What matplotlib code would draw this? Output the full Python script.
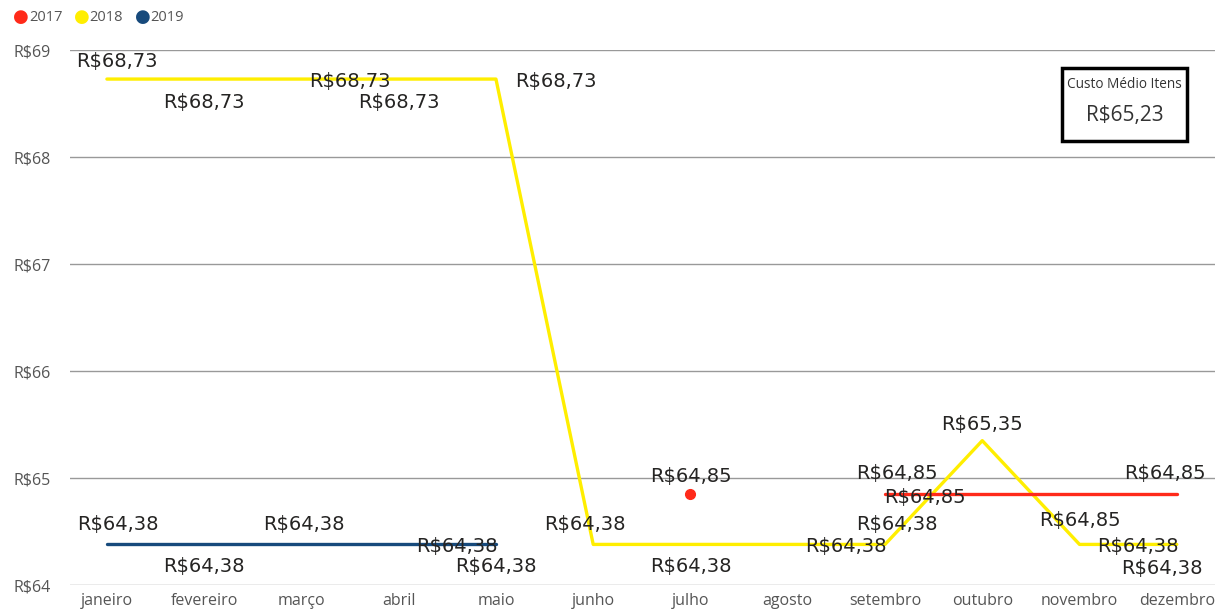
import matplotlib.pyplot as plt
import numpy as np

meses = ["janeiro", "fevereiro", "março", "abril", "maio", "junho",
         "julho", "agosto", "setembro", "outubro", "novembro", "dezembro"]
y_ticks = [64, 65, 66, 67, 68, 69]

# custo médio por mês (None = sem dado)
custo_2017 = [None, None, None, None, None, None,
              64.85, None, 64.85, 64.85, 64.85, 64.85]
custo_2018 = [68.73, 68.73, 68.73, 68.73, 68.73, 64.38,
              64.38, 64.38, 64.38, 65.35, 64.38, 64.38]
custo_2019 = [64.38, 64.38, 64.38, 64.38, 64.38, None,
              None, None, None, None, None, None]
custo_medio_itens = 65.23

cores = {"2017": "#FF2A1A", "2018": "#FFEE00", "2019": "#174A7C"}

# deslocamento (px) de cada rótulo de dado em relação ao ponto
off_2017 = [None, None, None, None, None, None,
            (0, 18), None, (12, 21), (-57, -3), (0, -26), (-12, 21)]
off_2018 = [(10, 18), (0, -23), (48, -2), (0, -23), (60, -2), (-8, 20),
            (0, -22), (58, -2), (12, 20), (0, 16), (58, -2), (-15, -24)]
off_2019 = [(11, 20), (0, -22), (2, 20), (58, -2), (0, -22), None,
            None, None, None, None, None, None]

fig = plt.figure(figsize=(12.27, 6.12), dpi=100)
ax = fig.add_axes([0.057, 0.044, 0.933, 0.874])

x = np.arange(len(meses))


def fmt(v):
    return "R$" + f"{v:.2f}".replace(".", ",")


def serie(valores, cor, offsets):
    arr = np.array([np.nan if v is None else v for v in valores], dtype=float)
    ax.plot(x, arr, color=cor, lw=2.4, solid_capstyle="round", zorder=3)
    # pontos isolados aparecem como marcador
    for i, v in enumerate(arr):
        if np.isnan(v):
            continue
        prev_ok = i > 0 and not np.isnan(arr[i - 1])
        next_ok = i < len(arr) - 1 and not np.isnan(arr[i + 1])
        if not prev_ok and not next_ok:
            ax.plot(x[i], v, "o", color=cor, ms=7, zorder=3)
    for i, v in enumerate(arr):
        if np.isnan(v) or offsets[i] is None:
            continue
        ax.annotate(fmt(v), (x[i], v), xytext=offsets[i],
                    textcoords="offset pixels", ha="center", va="center",
                    fontsize=14, color="#252423", family="DejaVu Sans",
                    zorder=5)


serie(custo_2018, cores["2018"], off_2018)
serie(custo_2019, cores["2019"], off_2019)
serie(custo_2017, cores["2017"], off_2017)

ax.set_xlim(-0.38, 11.39)
ax.set_ylim(64, 69)
ax.set_yticks(y_ticks)
ax.set_yticklabels([f"R${t}" for t in y_ticks])
ax.set_xticks(x)
ax.set_xticklabels(meses)
ax.tick_params(length=0, labelsize=11.5, labelcolor="#555555")
ax.tick_params(axis="x", pad=6)
ax.tick_params(axis="y", pad=14)
for lbl in ax.get_xticklabels() + ax.get_yticklabels():
    lbl.set_family("Open Sans")
ax.grid(axis="y", color="#999999", lw=1)
ax.set_axisbelow(True)
for s in ax.spines.values():
    s.set_visible(False)

# legenda
leg_x = 0.011
for ano in ["2017", "2018", "2019"]:
    fig.text(leg_x, 0.972, "●", color=cores[ano], fontsize=13,
             va="center", ha="left", family="DejaVu Sans")
    fig.text(leg_x + 0.0125, 0.971, ano, color="#555555", fontsize=10.5,
             va="center", ha="left", family="Open Sans")
    leg_x += 0.0495

# cartão com o custo médio
card = plt.Rectangle((1062 / 1227, 1 - 141 / 612), 125 / 1227, 73 / 612,
                     transform=fig.transFigure, fill=True, facecolor="white",
                     edgecolor="black", lw=2.5, zorder=10)
fig.add_artist(card)
fig.text(1124.5 / 1227, 1 - 84 / 612, "Custo Médio Itens", ha="center",
         va="center", fontsize=9.8, color="#333333", family="Open Sans",
         zorder=11)
fig.text(1124.5 / 1227, 1 - 116 / 612, fmt(custo_medio_itens), ha="center",
         va="center", fontsize=15, color="#333333", family="Open Sans",
         zorder=11)

fig.savefig("out.png", dpi=100)
